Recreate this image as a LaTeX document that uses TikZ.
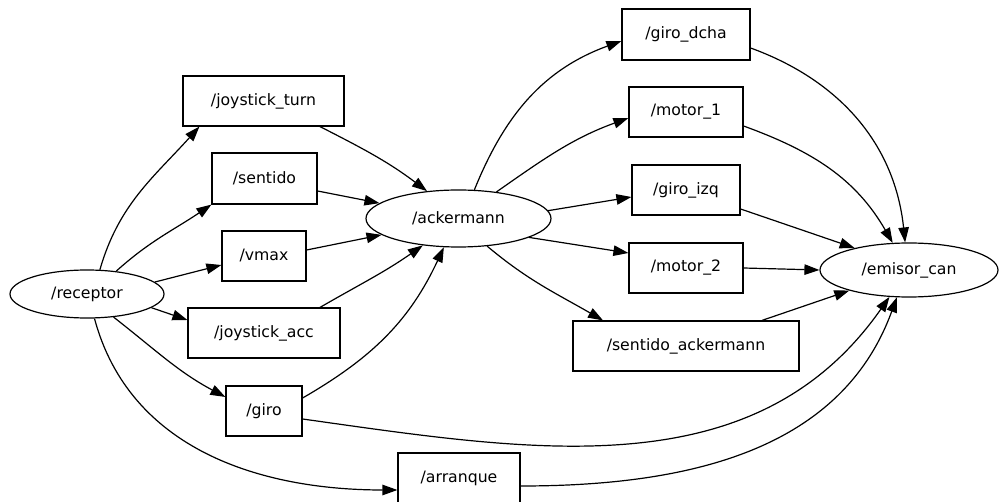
\documentclass[tikz,border=0pt]{standalone}
\usepackage{fontspec}
\setmainfont{DejaVu Sans}
\usetikzlibrary{arrows.meta,shapes.geometric}
\begin{document}
\begin{tikzpicture}[x=1pt,y=1pt,
  font=\fontsize{15.7}{18}\selectfont,
  box/.style={draw,line width=1.2pt,rectangle,inner sep=0pt,anchor=center},
  ell/.style={draw,line width=1.2pt,ellipse,inner sep=0pt,anchor=center},
  edge/.style={line width=1.2pt,-{Triangle[length=15pt,width=10.5pt]}},
  ]
\useasboundingbox (0,0) rectangle (999,501);
% nodes
\node[ell,minimum width=154,minimum height=48] (rec) at (87,207) {/receptor};
\node[box,minimum width=161,minimum height=50] (jt) at (263.5,400) {/joystick\_turn};
\node[box,minimum width=105,minimum height=51] (sen) at (264.5,322.5) {/sentido};
\node[box,minimum width=84,minimum height=50] (vmax) at (264,245) {/vmax};
\node[box,minimum width=152,minimum height=50] (ja) at (264,168) {/joystick\_acc};
\node[box,minimum width=76,minimum height=50] (giro) at (264,90) {/giro};
\node[box,minimum width=122,minimum height=50] (arr) at (459,23) {/arranque};
\node[ell,minimum width=185,minimum height=57] (ack) at (458.5,282.5) {/ackermann};
\node[box,minimum width=128,minimum height=51] (gd) at (686,466.5) {/giro\_dcha};
\node[box,minimum width=114,minimum height=50] (m1) at (686,389) {/motor\_1};
\node[box,minimum width=108,minimum height=50] (gi) at (686,311) {/giro\_izq};
\node[box,minimum width=114,minimum height=50] (m2) at (686,233) {/motor\_2};
\node[box,minimum width=226,minimum height=50] (sa) at (686,155) {/sentido\_ackermann};
\node[ell,minimum width=178,minimum height=54] (emi) at (909,231) {/emisor\_can};
% edges from receptor
\draw[edge] (rec.62) to[out=74,in=228] ([xshift=17]jt.south west);
\draw[edge] (rec.38) to[out=42,in=214] (sen.south west);
\draw[edge] (rec.10) -- ([yshift=-9]vmax.west);
\draw[edge] (rec.-12) -- ([yshift=13]ja.west);
\draw[edge] (rec.-41) to[out=-38,in=152] ([yshift=14]giro.west);
\draw[edge] (rec.-73) to[out=-75,in=180] ([yshift=-12]arr.west);
% into ackermann
\draw[edge] ([xshift=56.5]jt.south) to[out=-27,in=143] (ack.139);
\draw[edge] ([yshift=-12.5]sen.east) -- (ack.169);
\draw[edge] ([yshift=6]vmax.east) -- (ack.192);
\draw[edge] ([xshift=56]ja.north) to[out=30,in=215] (ack.217);
\draw[edge] ([yshift=13]giro.east) to[out=30,in=-115] (ack.243);
% out of ackermann
\draw[edge] (ack.61) to[out=68,in=200] ([yshift=-6.5]gd.west);
\draw[edge] (ack.35) to[out=35,in=200] ([yshift=-6]m1.west);
\draw[edge] (ack.5.5) -- ([yshift=-7]gi.west);
\draw[edge] (ack.-15) -- ([yshift=15]m2.west);
\draw[edge] (ack.-44.5) to[out=-40,in=150] ([xshift=-83]sa.north);
% into emisor_can
\draw[edge] ([yshift=-13.5]gd.east) to[out=-20,in=96] (emi.98);
\draw[edge] ([yshift=-14]m1.east) to[out=-20,in=120] (emi.121);
\draw[edge] ([yshift=-19]gi.east) -- (emi.158);
\draw[edge] (m2.east) -- (emi.west);
\draw[edge] ([xshift=76]sa.north) -- (emi.199);
\draw[edge] ([yshift=-8]giro.east) to[out=-8,in=-125] (emi.234);
\draw[edge] ([yshift=-8]arr.east) to[out=0,in=-110] (emi.246);
\end{tikzpicture}
\end{document}
